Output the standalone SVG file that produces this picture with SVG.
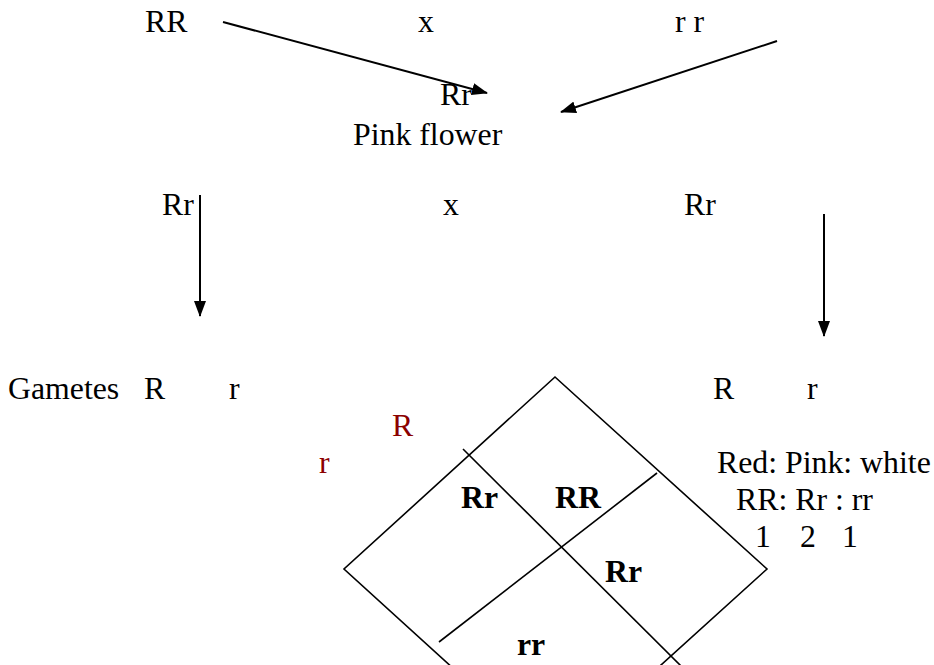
<svg xmlns="http://www.w3.org/2000/svg" width="934" height="665" viewBox="0 0 934 665">
  <style>
    text { font-family: "Liberation Serif", "Times New Roman", serif; font-size: 31.8px; fill: #000; }
    .b { font-weight: bold; }
    .red { fill: #8b0000; }
    .arrow { stroke: #000; stroke-width: 2; fill: none; marker-end: url(#head); }
    .grid { stroke: #000; stroke-width: 1.6; fill: none; }
  </style>
  <defs>
    <marker id="head" viewBox="0 0 16 12" refX="15" refY="6" markerWidth="16" markerHeight="12" markerUnits="userSpaceOnUse" orient="auto">
      <path d="M0,0 L16,6 L0,12 Z" fill="#000"/>
    </marker>
  </defs>
  <rect width="934" height="665" fill="#fff"/>

  <!-- parental cross -->
  <g id="parent-RR"><text x="145" y="32">RR</text></g>
  <g id="cross-1"><text x="418" y="32">x</text></g>
  <g id="parent-rr"><text x="675" y="32">r r</text></g>

  <!-- F1 offspring -->
  <g id="f1"><text x="440" y="105">Rr</text><text x="353" y="145">Pink flower</text></g>

  <!-- F1 self cross -->
  <g id="f1-left"><text x="162" y="215">Rr</text></g>
  <g id="cross-2"><text x="443" y="215">x</text></g>
  <g id="f1-right"><text x="684" y="215">Rr</text></g>

  <!-- gametes -->
  <g id="gametes-left"><text x="8" y="399">Gametes</text><text x="144" y="399">R</text><text x="229" y="399">r</text></g>
  <g id="gametes-right"><text x="713" y="399">R</text><text x="807" y="399">r</text></g>

  <!-- Punnett square, drawn as a diamond -->
  <g id="punnett">
    <polygon class="grid" points="555,377 767,569 555,761 344,569"/>
    <line class="grid" x1="463" y1="449" x2="682" y2="667"/>
    <line class="grid" x1="657" y1="473" x2="439" y2="642"/>
    <text class="red" x="392" y="436">R</text>
    <text class="red" x="319" y="473">r</text>
    <text class="b" x="461" y="508">Rr</text>
    <text class="b" x="555" y="508">RR</text>
    <text class="b" x="605" y="582">Rr</text>
    <text class="b" x="517" y="655">rr</text>
  </g>

  <!-- ratio -->
  <g id="ratio">
    <text x="717" y="473">Red: Pink: white</text>
    <text x="736" y="510">RR: Rr : rr</text>
    <text y="547"><tspan x="755">1</tspan><tspan x="800">2</tspan><tspan x="842">1</tspan></text>
  </g>

  <g id="connectors">
    <line class="arrow" x1="223" y1="22" x2="487" y2="93"/>
    <line class="arrow" x1="777" y1="41" x2="561" y2="112"/>
    <line class="arrow" x1="200" y1="195" x2="200" y2="316"/>
    <line class="arrow" x1="824" y1="214" x2="824" y2="336"/>
  </g>
</svg>
